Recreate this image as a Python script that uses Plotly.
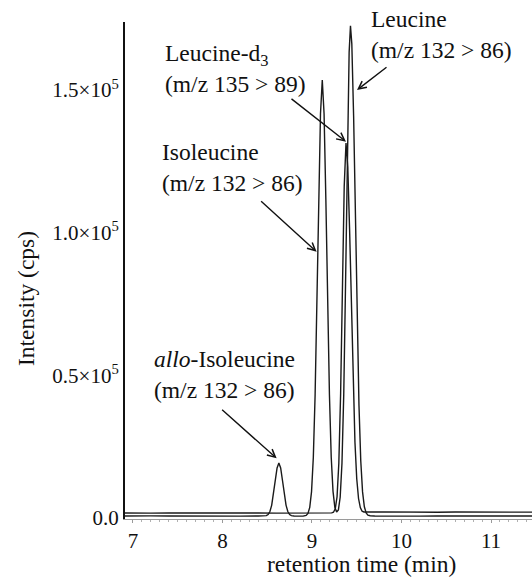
import plotly.graph_objects as go

# ---- data (retention time in min, intensity in cps) ----
# m/z 132 > 86 channel (allo-Isoleucine, Isoleucine, Leucine)
t_132 = [6.91, 7.00, 7.20, 7.40, 7.60, 7.80, 8.00, 8.20, 8.40, 8.49, 8.51, 8.53, 8.55, 8.57,
         8.59, 8.61, 8.63, 8.65, 8.67, 8.69, 8.71, 8.73, 8.75, 8.77, 8.80, 8.90, 8.935, 8.955,
         8.975, 8.995, 9.015, 9.035, 9.055, 9.075, 9.095, 9.115, 9.135, 9.155, 9.175, 9.195,
         9.215, 9.235, 9.255, 9.275, 9.295, 9.315, 9.335, 9.355, 9.375, 9.395, 9.415, 9.43,
         9.445, 9.465, 9.485, 9.505, 9.525, 9.545, 9.565, 9.585, 9.605, 9.625, 9.65, 9.70,
         9.80, 10.00, 10.20, 10.40, 10.60, 10.80, 11.00, 11.20, 11.46]
i_132 = [700, 650, 750, 700, 650, 700, 750, 650, 700, 850, 1230, 2270, 4530, 8350,
         13240, 17550, 19300, 17550, 13240, 8350, 4530, 2270, 1230, 850, 700, 650, 930, 1620,
         3730, 9260, 21300, 43200, 75100, 111600, 141700, 153500, 141700, 111600, 75100, 43200,
         21300, 9350, 3820, 2080, 2840, 7260, 19200, 43500, 82100, 127700, 163200, 172500,
         166200, 141000, 104900, 68500, 39400, 20000, 9150, 3940, 1790, 1020, 800, 700,
         650, 700, 650, 700, 750, 650, 700, 650, 700]

# m/z 135 > 89 channel (Leucine-d3)
t_135 = [6.91, 7.00, 7.20, 7.40, 7.60, 7.80, 8.00, 8.20, 8.40, 8.60, 8.80, 9.00, 9.20, 9.22,
         9.24, 9.26, 9.28, 9.30, 9.32, 9.34, 9.36, 9.38, 9.40, 9.42, 9.44, 9.46, 9.48, 9.50,
         9.52, 9.54, 9.56, 9.58, 9.62, 9.70, 9.80, 10.00, 10.20, 10.40, 10.60, 10.80, 11.00,
         11.20, 11.46]
i_135 = [1750, 1800, 1700, 1750, 1800, 1700, 1750, 1800, 1750, 1700, 1750, 1800, 1750, 1790,
         2030, 3190, 7440, 19300, 43850, 80350, 116150, 131400, 123050, 101250, 73250, 46750,
         26550, 13750, 6830, 3630, 2360, 2100, 2050, 2100, 2150, 2050, 2100, 2000, 2100, 2050,
         2100, 2000, 2050]

y_tickvals = [0, 50000, 100000, 150000]
y_ticktext = ["0.0", "0.5×10<sup>5</sup>", "1.0×10<sup>5</sup>", "1.5×10<sup>5</sup>"]
x_tickvals = [7, 8, 9, 10, 11]

labels = ["Leucine<br>(m/z 132 &gt; 86)",
          "Leucine-d<sub>3</sub><br>(m/z 135 &gt; 89)",
          "Isoleucine<br>(m/z 132 &gt; 86)",
          "<i>allo</i>-Isoleucine<br>(m/z 132 &gt; 86)"]
# arrow head positions (time, intensity)
arrow_x = [9.503, 9.380, 9.052, 8.605]
arrow_y = [150000, 131900, 93300, 20900]

FONT = "Liberation Serif, Times New Roman, serif"
LINE = "#1a1a1a"
TXT = 23.5

fig = go.Figure()
fig.add_trace(go.Scatter(x=t_135, y=i_135, mode="lines",
                         line=dict(color=LINE, width=1.4), showlegend=False))
fig.add_trace(go.Scatter(x=t_132, y=i_132, mode="lines",
                         line=dict(color=LINE, width=1.4), showlegend=False))

# text labels (positions in paper coords)
lab_pos = [(0.600, 0.974), (0.0934, 0.907), (0.086, 0.708), (0.0663, 0.290)]
for txt, (px, py) in zip(labels, lab_pos):
    fig.add_annotation(text=txt, xref="paper", yref="paper", x=px, y=py,
                       xanchor="left", yanchor="middle", align="left",
                       showarrow=False, font=dict(family=FONT, size=TXT, color="#111"))

# arrows
offsets = [(31, -24), (-56, -44), (-57, -52), (-56, -50)]
for ax_, (ox, oy), ay_ in zip(arrow_x, offsets, arrow_y):
    fig.add_annotation(x=ax_, y=ay_, xref="x", yref="y", text="", showarrow=True,
                       ax=ox, ay=oy, arrowhead=5, arrowsize=1.1, arrowwidth=1.4,
                       arrowcolor="#111")

# axis titles
fig.add_annotation(text="Intensity (cps)", xref="paper", yref="paper",
                   x=-0.2432, y=0.4427, textangle=-90, showarrow=False,
                   xanchor="center", yanchor="middle",
                   font=dict(family=FONT, size=TXT, color="#111"))
fig.add_annotation(text="retention time (min)", xref="paper", yref="paper",
                   x=0.582, y=-0.0915, showarrow=False,
                   xanchor="center", yanchor="middle",
                   font=dict(family=FONT, size=TXT, color="#111"))

fig.update_layout(
    width=532, height=578,
    margin=dict(l=125, r=0, t=22, b=59),
    paper_bgcolor="white", plot_bgcolor="white",
    font=dict(family=FONT, color="#111"),
    showlegend=False,
)
fig.update_xaxes(range=[6.911, 11.458], tickvals=x_tickvals,
                 showgrid=False, zeroline=False, showline=True,
                 linecolor="#9a9a9a", linewidth=1,
                 ticks="outside", ticklen=3, tickcolor="#9a9a9a",
                 minor=dict(dtick=0.1, ticks="outside", ticklen=2, tickcolor="#b0b0b0"),
                 tickfont=dict(family=FONT, size=21, color="#111"))
fig.update_yaxes(range=[-350, 173850], tickvals=y_tickvals, ticktext=y_ticktext,
                 showgrid=False, zeroline=False, showline=True,
                 linecolor="#111", linewidth=2, ticks="",
                 tickfont=dict(family=FONT, size=21, color="#111"))

fig.write_html("out.html")
